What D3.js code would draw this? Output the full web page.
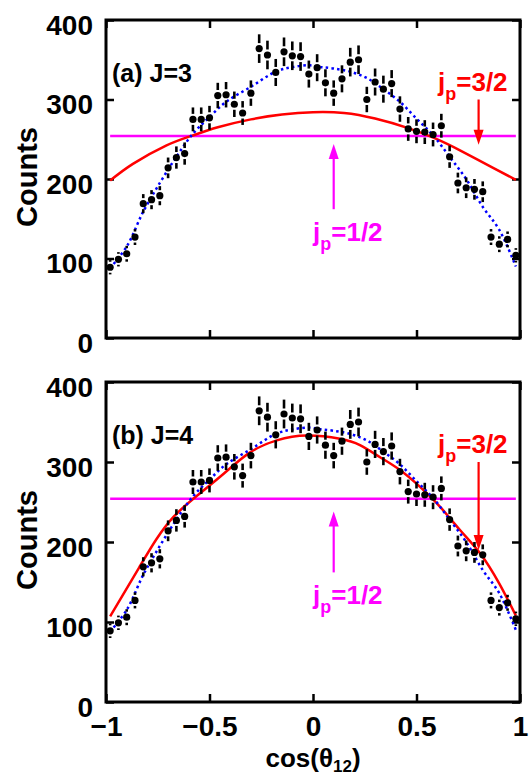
<!DOCTYPE html>
<html>
<head>
<meta charset="utf-8">
<script src="https://cdn.jsdelivr.net/npm/d3@7"></script>
<style>
  body { margin: 0; background: #fff; }
  text { font-family: "Liberation Sans", Arial, sans-serif; font-weight: bold; }
</style>
</head>
<body>
<div id="chart"></div>
<script>
// bin centres of cos(theta12)
const cosBins = [-0.98, -0.94, -0.90, -0.86, -0.82, -0.78, -0.74, -0.70, -0.66, -0.62,
                 -0.58, -0.54, -0.50, -0.46, -0.42, -0.38, -0.34, -0.30, -0.26, -0.22,
                 -0.18, -0.14, -0.10, -0.06, -0.02, 0.02, 0.06, 0.10, 0.14, 0.18,
                 0.22, 0.26, 0.30, 0.34, 0.38, 0.42, 0.46, 0.50, 0.54, 0.58,
                 0.62, 0.66, 0.70, 0.74, 0.78, 0.82, 0.86, 0.90, 0.94, 0.98];
const counts = [89, 99, 106, 127, 169, 174, 179, 214, 227, 232,
                275, 275, 277, 305, 306, 294, 283, 308, 364, 356,
                334, 360, 355, 354, 332, 340, 321, 308, 326, 347,
                350, 300, 322, 313, 320, 288, 263, 260, 259, 256,
                267, 228, 195, 189, 187, 184, 127, 118, 124, 104];
const countErr = [9, 9, 10, 10, 12, 12, 12, 13, 14, 14,
                  15, 15, 15, 16, 16, 16, 15, 16, 18, 18,
                  17, 18, 18, 18, 17, 17, 17, 16, 17, 18,
                  18, 16, 17, 17, 17, 16, 15, 15, 15, 15,
                  15, 14, 13, 13, 13, 13, 10, 10, 10, 9];

// blue dotted fit (same in both panels)
const fitX   = [-0.98, -0.90, -0.82, -0.74, -0.66, -0.58, -0.50, -0.42, -0.30, -0.18, -0.095, -0.015, 0.034, 0.10, 0.18, 0.26, 0.34, 0.42, 0.50, 0.58, 0.66, 0.74, 0.82, 0.90, 0.98];
const fitVal = [88, 115, 159, 195, 228, 257, 278, 297, 316, 335, 341, 343, 341, 339, 335, 327, 313, 297, 276, 255, 228, 200, 165, 136, 90];

// red curves
const j3X   = [-0.98, -0.87, -0.71, -0.59, -0.46, -0.30, -0.15, 0.0, 0.15, 0.30, 0.46, 0.59, 0.71, 0.87, 0.98];
const j3Val = [198, 219, 242, 254, 265, 275, 281, 284, 283, 276, 264, 251, 236, 214, 199];
const j4X   = [-0.98, -0.84, -0.755, -0.675, -0.578, -0.433, -0.304, -0.175, -0.03, 0.13, 0.227, 0.324, 0.42, 0.517, 0.614, 0.71, 0.807, 0.90, 0.98];
const j4Val = [107, 168, 204, 231, 254, 285, 312, 327, 333, 329, 321, 306, 290, 269, 244, 215, 186, 148, 108];

const halfLevel = 254;          // j_p = 1/2 flat distribution
const xTicks = [-1, -0.5, 0, 0.5, 1];
const yTicks = [0, 100, 200, 300, 400];
const panelLabels = ["(a) J=3", "(b) J=4"];
const redArrowTip = [243, 190];
const magArrowTip = [244, 238];

const W = 529, H = 775;
const left = 106, right = 520;
const panels = [
    {top: 20, bottom: 338, label: panelLabels[0], rx: j3X, rv: j3Val, tip: redArrowTip[0], mtip: magArrowTip[0], xlabels: false},
    {top: 382, bottom: 702, label: panelLabels[1], rx: j4X, rv: j4Val, tip: redArrowTip[1], mtip: magArrowTip[1], xlabels: true}
];

const svg = d3.select("#chart").append("svg")
    .attr("width", W)
    .attr("height", H);

const x = d3.scaleLinear().domain([-1, 1]).range([left, right]);
const fmt = d3.format("");

function arrowHead(g, px, py, dir, color) {
    // dir = +1 points down, -1 points up
    const len = 15, hw = 5;
    g.append("path")
        .attr("d", `M${px},${py} L${px - hw},${py - dir * len} L${px + hw},${py - dir * len} Z`)
        .attr("fill", color);
}

panels.forEach(p => {
    const y = d3.scaleLinear().domain([0, 400]).range([p.bottom, p.top]);
    const g = svg.append("g");

    // axes with inward ticks
    const ax = [
        g.append("g").attr("transform", `translate(${left},0)`)
            .call(d3.axisLeft(y).tickValues(yTicks).tickSize(-8).tickPadding(13)),
        g.append("g").attr("transform", `translate(${right},0)`)
            .call(d3.axisRight(y).tickValues(yTicks).tickSize(-8).tickFormat("")),
        g.append("g").attr("transform", `translate(0,${p.top})`)
            .call(d3.axisTop(x).tickValues(xTicks).tickSize(-8).tickFormat("")),
        g.append("g").attr("transform", `translate(0,${p.bottom})`)
            .call(d3.axisBottom(x).tickValues(xTicks).tickSize(-8).tickPadding(14)
                .tickFormat(p.xlabels ? fmt : ""))
    ];
    ax.forEach(a => {
        a.select(".domain").remove();
        a.selectAll(".tick line").attr("stroke", "#000").attr("stroke-width", 2.5);
        a.selectAll("text").attr("font-size", 28).attr("fill", "#000")
            .style("font-family", '"Liberation Sans", Arial, sans-serif').style("font-weight", "bold");
    });
    ax[0].selectAll("text").attr("dy", "0.5em");

    // magenta flat line
    g.append("line")
        .attr("x1", x(-0.98)).attr("x2", x(0.98))
        .attr("y1", y(halfLevel)).attr("y2", y(halfLevel))
        .attr("stroke", "#ff00ff").attr("stroke-width", 2.5);

    // red curve
    const redData = p.rx.map((v, i) => [v, p.rv[i]]);
    g.append("path")
        .datum(redData)
        .attr("fill", "none")
        .attr("stroke", "#ff0000")
        .attr("stroke-width", 2.5)
        .attr("d", d3.line().x(d => x(d[0])).y(d => y(d[1])).curve(d3.curveNatural));

    // blue dotted fit
    const fitData = fitX.map((v, i) => [v, fitVal[i]]);
    g.append("path")
        .datum(fitData)
        .attr("fill", "none")
        .attr("stroke", "#0000ff")
        .attr("stroke-width", 2.5)
        .attr("stroke-dasharray", "2.5,3.2")
        .attr("d", d3.line().x(d => x(d[0])).y(d => y(d[1])).curve(d3.curveCatmullRom));

    // data with error bars (gap around the dot)
    const pts = cosBins.map((c, i) => ({c: c, v: counts[i], e: countErr[i]}));
    const gap = 5.5;
    const pg = g.append("g");
    pts.forEach(d => {
        const cx = x(d.c), cy = y(d.v);
        const hi = y(d.v + d.e), lo = y(d.v - d.e);
        if (cy - hi > gap) {
            pg.append("line").attr("x1", cx).attr("x2", cx).attr("y1", hi).attr("y2", cy - gap)
                .attr("stroke", "#000").attr("stroke-width", 2.6);
            pg.append("line").attr("x1", cx).attr("x2", cx).attr("y1", cy + gap).attr("y2", lo)
                .attr("stroke", "#000").attr("stroke-width", 2.6);
        }
    });
    pg.selectAll("circle")
        .data(pts)
        .enter().append("circle")
        .attr("cx", d => x(d.c))
        .attr("cy", d => y(d.v))
        .attr("r", 3.6)
        .attr("fill", "#000");

    // frame
    g.append("rect")
        .attr("x", left).attr("y", p.top)
        .attr("width", right - left).attr("height", p.bottom - p.top)
        .attr("fill", "none").attr("stroke", "#000").attr("stroke-width", 3);

    // panel label
    g.append("text")
        .attr("x", left + 6)
        .attr("y", p.top + 62)
        .attr("font-size", 25)
        .text(p.label);

    // j_p = 3/2 annotation (red)
    const t1 = g.append("text")
        .attr("x", x(0.604)).attr("y", y(311))
        .attr("font-size", 26).attr("fill", "#ff0000");
    t1.append("tspan").text("j");
    t1.append("tspan").attr("font-size", 18).attr("dy", 9).text("p");
    t1.append("tspan").attr("dy", -9).text("=3/2");
    g.append("line")
        .attr("x1", x(0.80)).attr("x2", x(0.80))
        .attr("y1", y(300)).attr("y2", y(p.tip) - 12)
        .attr("stroke", "#ff0000").attr("stroke-width", 2.2);
    arrowHead(g, x(0.80), y(p.tip), 1, "#ff0000");

    // j_p = 1/2 annotation (magenta)
    const t2 = g.append("text")
        .attr("x", x(0.0)).attr("y", y(122))
        .attr("font-size", 26).attr("fill", "#ff00ff");
    t2.append("tspan").text("j");
    t2.append("tspan").attr("font-size", 18).attr("dy", 9).text("p");
    t2.append("tspan").attr("dy", -9).text("=1/2");
    g.append("line")
        .attr("x1", x(0.10)).attr("x2", x(0.10))
        .attr("y1", y(162)).attr("y2", y(p.mtip) + 12)
        .attr("stroke", "#ff00ff").attr("stroke-width", 2.2);
    arrowHead(g, x(0.10), y(p.mtip), -1, "#ff00ff");

    // y title
    svg.append("text")
        .attr("transform", `translate(37,${(p.top + p.bottom) / 2 - 2}) rotate(-90)`)
        .attr("text-anchor", "middle")
        .attr("font-size", 29)
        .text("Counts");
});

// x title
const xt = svg.append("text")
    .attr("x", 313).attr("y", 767)
    .attr("text-anchor", "middle")
    .attr("font-size", 26);
xt.append("tspan").text("cos(θ");
xt.append("tspan").attr("font-size", 17).attr("dy", 5).text("12");
xt.append("tspan").attr("dy", -5).text(")");
</script>
</body>
</html>
